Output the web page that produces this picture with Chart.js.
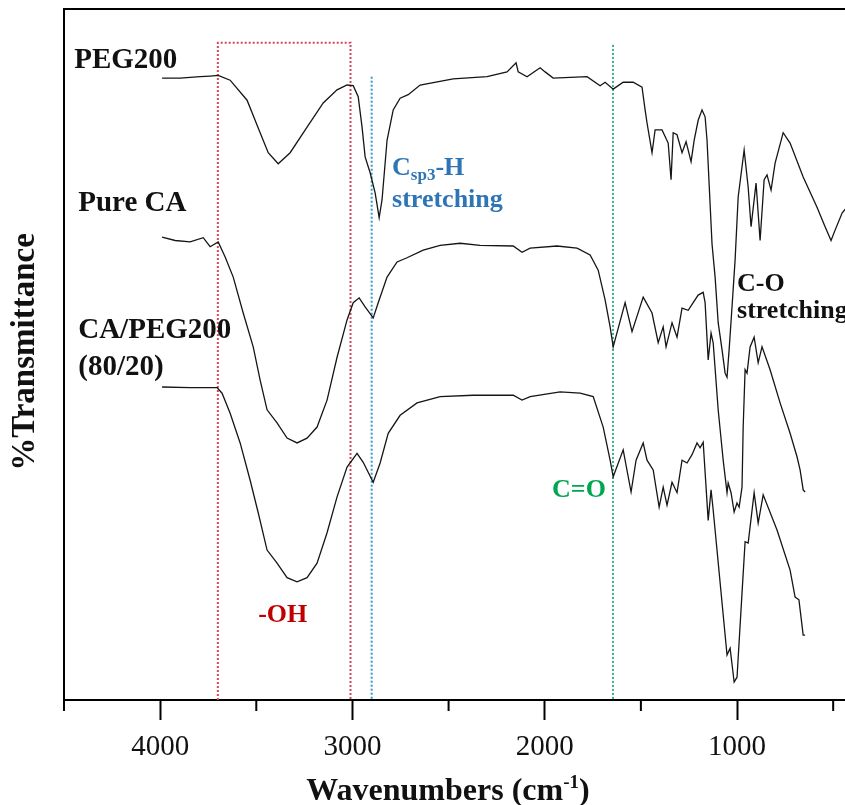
<!DOCTYPE html>
<html>
<head>
<meta charset="utf-8">
<script src="https://cdn.jsdelivr.net/npm/chart.js@4.4.1/dist/chart.umd.min.js"></script>
<style>
html,body{margin:0;padding:0;background:#fff;overflow:hidden;width:845px;height:805px;}
canvas{display:block;}
</style>
</head>
<body>
<canvas id="c" width="900" height="805" style="width:900px;height:805px"></canvas>
<script>
// ---- Data (wavenumber in cm-1, transmittance in offset a.u. 0-100) ----
const peg200Wavenumber = [3990,3896,3792,3740,3698,3636,3548,3480,3438,3386,3324,3236,3152,3080,3028,2996,2970,2950,2934,2908,2882,2861,2846,2820,2788,2752,2710,2648,2476,2300,2196,2149,2138,2092,2024,1998,1956,1780,1712,1686,1644,1592,1540,1494,1478,1468,1442,1426,1390,1358,1343,1332,1312,1286,1265,1239,1223,1202,1182,1166,1156,1130,1114,1098,1078,1062,1052,1041,1026,1010,994,963,942,927,901,880,859,844,823,802,760,724,656,584,542,511,490,453,420];
const peg200T = [90.0,90.0,90.2,90.3,90.4,89.7,86.8,82.1,79.2,77.6,79.2,82.9,86.4,88.3,89.0,88.9,87.3,82.9,78.6,76.3,73.4,69.8,72.4,81.0,85.4,87.1,87.6,89.0,89.9,90.2,90.9,92.2,90.9,90.2,91.5,90.9,90.0,90.2,88.9,89.4,88.4,89.4,89.4,88.7,85.4,83.5,79.2,82.5,82.5,80.6,75.3,82.1,81.8,79.2,80.8,77.9,81.0,83.9,85.4,84.4,81.0,66.0,61.2,54.6,50.7,47.3,46.7,50.7,56.9,63.7,72.8,79.6,74.2,68.5,74.8,66.5,75.3,76.0,73.8,77.7,82.1,80.6,75.7,71.3,68.5,66.5,68.0,70.5,71.6];

const pureCAWavenumber = [3990,3922,3844,3776,3740,3698,3662,3620,3568,3516,3480,3444,3392,3340,3288,3236,3184,3132,3080,3028,2996,2965,2934,2892,2866,2820,2768,2716,2632,2544,2440,2336,2164,2118,2076,1936,1832,1764,1722,1686,1660,1644,1582,1546,1488,1442,1410,1384,1369,1338,1312,1286,1254,1228,1202,1176,1166,1150,1135,1124,1098,1072,1052,1046,1031,1015,1000,989,974,968,958,948,932,911,890,870,828,776,724,688,672,656,646];
const pureCAT = [67.0,66.5,66.3,66.9,65.6,66.3,64.1,61.2,56.0,51.1,46.3,42.0,40.1,37.9,37.2,37.9,39.5,43.4,49.6,55.0,57.5,58.2,56.9,55.3,57.5,61.2,63.4,64.0,65.1,65.8,66.1,65.8,65.7,64.8,65.4,65.7,65.4,64.4,62.2,57.9,54.0,51.1,57.5,53.3,58.3,56.0,51.7,54.0,51.1,54.6,52.5,56.7,56.4,57.5,58.6,59.0,57.5,49.2,53.1,51.7,42.0,34.7,30.0,31.4,30.0,27.2,28.5,27.9,30.8,39.5,47.8,47.3,51.1,52.5,48.8,51.1,47.8,43.0,38.6,35.2,33.3,30.4,30.1];

const blendWavenumber = [3990,3844,3704,3678,3636,3584,3532,3490,3444,3392,3340,3288,3236,3184,3132,3080,3028,2976,2944,2892,2856,2814,2752,2664,2544,2372,2164,2118,2076,1920,1816,1748,1696,1660,1644,1592,1551,1525,1488,1468,1436,1405,1384,1364,1338,1312,1286,1260,1234,1208,1192,1176,1150,1135,1124,1052,1036,1015,1000,974,958,942,911,890,864,792,724,698,678,656,646];
const blendT = [45.3,45.2,45.2,44.4,41.5,37.2,31.8,27.1,21.7,19.8,17.7,17.1,17.7,19.8,24.2,29.4,33.7,35.7,34.4,31.5,34.3,38.6,41.2,43.0,43.9,44.1,44.1,43.4,43.9,44.6,44.4,43.9,39.5,34.7,32.3,36.2,30.1,34.7,37.2,34.7,33.3,27.9,30.8,28.2,31.5,30.0,34.7,34.3,35.5,37.2,36.5,37.3,26.0,30.4,27.5,6.5,7.5,2.6,3.3,15.5,22.9,22.7,30.0,25.6,29.7,24.6,18.8,14.9,14.5,9.4,9.4];

const seriesNames = ['PEG200', 'Pure CA', 'CA/PEG200 (80/20)'];
const tickValues = [4500,4000,3500,3000,2500,2000,1500,1000,500];
const majorTickValues = [4000,3000,2000,1000];
const xRange = [400, 4500];
const yRange = [0, 100];

// annotation regions (cm-1)
const ohBand = [3700, 3010];
const ohBoxTop = 95.1;
const chBand = 2900;
const chLineTop = 90.2;
const coBand = 1645;
const coLineTop = 94.8;

function pts(w, t) { return w.map((v, i) => ({x: v, y: t[i]})); }

const SERIF = '"Liberation Serif", "Times New Roman", serif';

const decor = {
  id: 'decor',
  beforeDatasetsDraw(chart) {
    const {ctx, scales: {x, y}} = chart;
    ctx.save();
    ctx.lineWidth = 2;
    ctx.setLineDash([2, 2]);
    ctx.strokeStyle = 'rgb(214,70,90)';
    const x1 = x.getPixelForValue(ohBand[0]), x2 = x.getPixelForValue(ohBand[1]);
    const yt = y.getPixelForValue(ohBoxTop), yb = y.getPixelForValue(0);
    ctx.beginPath();
    ctx.moveTo(x1, yb); ctx.lineTo(x1, yt); ctx.lineTo(x2, yt); ctx.lineTo(x2, yb);
    ctx.stroke();
    ctx.strokeStyle = 'rgb(60,150,200)';
    let xp = x.getPixelForValue(chBand);
    ctx.beginPath(); ctx.moveTo(xp, y.getPixelForValue(chLineTop)); ctx.lineTo(xp, yb); ctx.stroke();
    ctx.strokeStyle = 'rgb(60,178,140)';
    xp = x.getPixelForValue(coBand);
    ctx.beginPath(); ctx.moveTo(xp, y.getPixelForValue(coLineTop)); ctx.lineTo(xp, yb); ctx.stroke();
    ctx.restore();
  },
  afterDraw(chart) {
    const {ctx, chartArea: a, scales: {x, y}} = chart;
    ctx.save();
    ctx.strokeStyle = '#000';
    ctx.lineWidth = 2;
    ctx.beginPath(); ctx.moveTo(a.left - 1, a.top); ctx.lineTo(a.right, a.top); ctx.stroke();
    tickValues.filter(v => !majorTickValues.includes(v)).forEach(v => {
      const px = x.getPixelForValue(v);
      ctx.beginPath(); ctx.moveTo(px, a.bottom); ctx.lineTo(px, a.bottom + 11); ctx.stroke();
    });

    const txt = (s, wn, t, font, color) => {
      ctx.font = font; ctx.fillStyle = color; ctx.textAlign = 'left'; ctx.textBaseline = 'alphabetic';
      ctx.fillText(s, x.getPixelForValue(wn), y.getPixelForValue(t));
    };
    const big = 'bold 29px ' + SERIF;
    const med = 'bold 26px ' + SERIF;
    txt('PEG200', 4447, 91.5, big, '#111');
    txt('Pure CA', 4426, 70.8, big, '#111');
    txt('CA/PEG200', 4426, 52.4, big, '#111');
    txt('(80/20)', 4426, 47.0, big, '#111');

    const blue = '#2e75b6';
    let px = x.getPixelForValue(2794), py = y.getPixelForValue(76.0);
    ctx.fillStyle = blue; ctx.textAlign = 'left'; ctx.textBaseline = 'alphabetic';
    ctx.font = med; ctx.fillText('C', px, py); px += ctx.measureText('C').width;
    ctx.font = 'bold 17px ' + SERIF; ctx.fillText('sp3', px, py + 5); px += ctx.measureText('sp3').width;
    ctx.font = med; ctx.fillText('-H', px, py);
    txt('stretching', 2794, 71.3, med, blue);

    txt('C-O', 1000, 59.2, med, '#111');
    txt('stretching', 1000, 55.3, med, '#111');
    txt('C=O', 1962, 29.4, med, '#00a650');
    txt('-OH', 3490, 11.3, med, '#c00000');

    ctx.fillStyle = '#111';
    const f1 = 'bold 32px ' + SERIF, f2 = 'bold 19px ' + SERIF;
    const p1 = 'Wavenumbers (cm', p2 = '-1', p3 = ')';
    ctx.font = f1; const w1 = ctx.measureText(p1).width, w3 = ctx.measureText(p3).width;
    ctx.font = f2; const w2 = ctx.measureText(p2).width;
    let tx = 448 - (w1 + w2 + w3) / 2;
    const ty = 800;
    ctx.font = f1; ctx.fillText(p1, tx, ty); tx += w1;
    ctx.font = f2; ctx.fillText(p2, tx, ty - 12); tx += w2;
    ctx.font = f1; ctx.fillText(p3, tx, ty);

    ctx.translate(34, 352);
    ctx.rotate(-Math.PI / 2);
    ctx.font = 'bold 33px ' + SERIF;
    ctx.textAlign = 'center';
    ctx.fillText('%Transmittance', 0, 0);
    ctx.restore();
  }
};

const lineStyle = {borderColor: '#151515', borderWidth: 1.3, pointRadius: 0, fill: false, tension: 0};

new Chart(document.getElementById('c'), {
  type: 'line',
  data: {
    datasets: [
      Object.assign({label: seriesNames[0], data: pts(peg200Wavenumber, peg200T)}, lineStyle),
      Object.assign({label: seriesNames[1], data: pts(pureCAWavenumber, pureCAT)}, lineStyle),
      Object.assign({label: seriesNames[2], data: pts(blendWavenumber, blendT)}, lineStyle)
    ]
  },
  options: {
    responsive: false,
    devicePixelRatio: 1,
    animation: false,
    layout: {padding: {top: 9, right: 47.6, left: 0, bottom: 0}},
    plugins: {legend: {display: false}, tooltip: {enabled: false}},
    scales: {
      x: {
        type: 'linear',
        reverse: true,
        min: xRange[0], max: xRange[1],
        afterBuildTicks: s => { s.ticks = tickValues.map(v => ({value: v})); },
        afterFit: s => { s.height = 105; },
        border: {display: true, color: '#000', width: 2},
        grid: {
          drawOnChartArea: false, drawTicks: true, tickLength: 20, tickWidth: 2,
          tickColor: c => (c.tick && majorTickValues.includes(c.tick.value)) ? '#000' : 'rgba(0,0,0,0)'
        },
        ticks: {
          autoSkip: false, maxRotation: 0, padding: 10, color: '#111',
          font: {family: SERIF, size: 29},
          callback: v => majorTickValues.includes(v) ? String(v) : ''
        }
      },
      y: {
        type: 'linear',
        min: yRange[0], max: yRange[1],
        afterFit: s => { s.width = 64; },
        border: {display: true, color: '#000', width: 2},
        grid: {display: false, drawTicks: false},
        ticks: {display: false}
      }
    }
  },
  plugins: [decor]
});
</script>
</body>
</html>
